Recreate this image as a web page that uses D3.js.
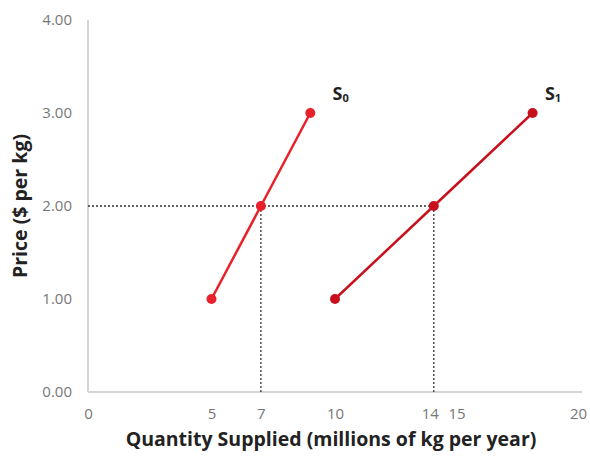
<!DOCTYPE html>
<html><head><meta charset="utf-8">
<script src="https://cdn.jsdelivr.net/npm/d3@7"></script>
<style>body{margin:0;background:#fff;} svg{display:block;}</style>
</head><body>
<svg id="c" width="590" height="458"></svg>
<script>
const xTicks = [0, 5, 7, 10, 14, 15, 20];
const yTicks = [0, 1, 2, 3, 4];
const s0 = [{q:5,p:1},{q:7,p:2},{q:9,p:3}];
const s1 = [{q:10,p:1},{q:14,p:2},{q:18,p:3}];
const seriesNames = ["S0","S1"];
const eqPrice = 2;
const eqQty = [7, 14];

const svg = d3.select("#c");
const x = d3.scaleLinear().domain([0,20]).range([88,582]);
const y = d3.scaleLinear().domain([0,4]).range([392,20]);
const font = "Open Sans, sans-serif";

// axes lines
svg.append("line").attr("x1",x(0)).attr("x2",x(0)).attr("y1",y(4)).attr("y2",y(0))
  .attr("stroke","#d4d4d4").attr("stroke-width",2);
svg.append("line").attr("x1",x(0)).attr("x2",x(20)).attr("y1",y(0)).attr("y2",y(0))
  .attr("stroke","#d4d4d4").attr("stroke-width",2);

const yAxis = d3.axisLeft(y).tickValues(yTicks).tickFormat(d3.format(".2f")).tickSize(0).tickPadding(16);
const gy = svg.append("g").attr("transform",`translate(${x(0)},0)`).call(yAxis);
gy.select(".domain").remove();
gy.selectAll("text").attr("font-family",font).attr("font-size",15).attr("fill","#777");

const xAxis = d3.axisBottom(x).tickValues(xTicks).tickFormat(d3.format("d")).tickSize(0).tickPadding(16);
const gx = svg.append("g").attr("transform",`translate(0,${y(0)})`).call(xAxis);
gx.select(".domain").remove();
gx.selectAll("text").attr("font-family",font).attr("font-size",15).attr("fill","#777")
  .attr("dx", d => d===14 ? -4 : (d===15 ? -2 : (d===20 ? -4 : 0)));

// dotted guides
const dash = "2,2";
svg.append("line").attr("x1",x(0)).attr("x2",x(eqQty[1])).attr("y1",y(eqPrice)).attr("y2",y(eqPrice))
  .attr("stroke","#333").attr("stroke-width",1.3).attr("stroke-dasharray",dash);
eqQty.forEach(q=>{
  svg.append("line").attr("x1",x(q)).attr("x2",x(q)).attr("y1",y(eqPrice)).attr("y2",y(0))
    .attr("stroke","#333").attr("stroke-width",1.3).attr("stroke-dasharray",dash);
});

const line = d3.line().x(d=>x(d.q)).y(d=>y(d.p));
const colors = ["#e8212b","#c8101c"];
[s0,s1].forEach((s,i)=>{
  svg.append("path").datum(s).attr("d",line).attr("fill","none").attr("stroke",colors[i]).attr("stroke-width",2.5);
  svg.selectAll(null).data(s).enter().append("circle").attr("cx",d=>x(d.q)).attr("cy",d=>y(d.p)).attr("r",5).attr("fill",colors[i]);
});

// series labels
const labelPos = [{q:9.9, p:3.2},{q:18.5,p:3.2}];
seriesNames.forEach((n,i)=>{
  const t = svg.append("text").attr("x",x(labelPos[i].q)).attr("y",y(labelPos[i].p)+6)
    .attr("font-family",font).attr("font-weight","bold").attr("font-size",18).attr("fill","#222");
  t.append("tspan").text(n[0]);
  t.append("tspan").text(n.slice(1)).attr("font-size",11).attr("dy",2);
});

// titles
svg.append("text").attr("x",331).attr("y",446).attr("text-anchor","middle")
  .attr("font-family",font).attr("font-weight","bold").attr("font-size",19.5).attr("fill","#222")
  .text("Quantity Supplied (millions of kg per year)");
svg.append("text").attr("transform","translate(27,206) rotate(-90)").attr("text-anchor","middle")
  .attr("font-family",font).attr("font-weight","bold").attr("font-size",19.5).attr("fill","#222")
  .text("Price ($ per kg)");
</script>
</body></html>
